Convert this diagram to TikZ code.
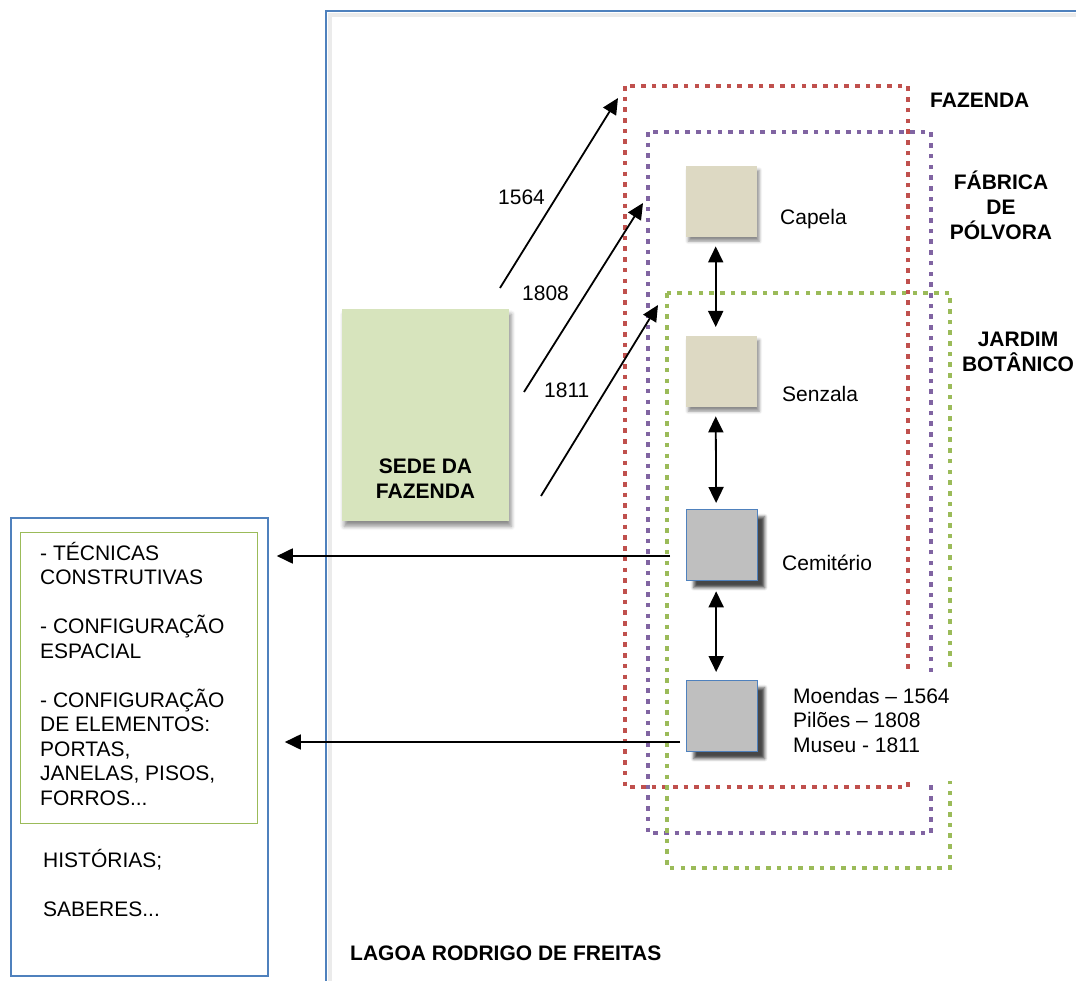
\documentclass[tikz,border=0pt]{standalone}
\usepackage{fontspec}
\setmainfont{Liberation Sans}
\usetikzlibrary{arrows.meta,shadows.blur}
\definecolor{frameblue}{HTML}{4F81BD}
\definecolor{dred}{HTML}{C0504D}
\definecolor{dpurple}{HTML}{8064A2}
\definecolor{dgreen}{HTML}{9BBB59}
\definecolor{sedefill}{HTML}{D7E4BD}
\definecolor{beige}{HTML}{DDD9C3}
\definecolor{boxgray}{HTML}{BFBFBF}
\tikzset{
  txt/.style={inner sep=0pt, font=\fontsize{21}{24.5}\selectfont},
  btxt/.style={inner sep=0pt, font=\fontsize{21}{25}\selectfont\bfseries},
  dots/.style={line width=4.6pt, dash pattern=on 4.6pt off 6.1pt},
  softbox/.style={draw=none, minimum width=71pt, minimum height=71pt, inner sep=0pt,
    blur shadow={shadow xshift=2pt, shadow yshift=-4pt, shadow blur radius=3pt, shadow opacity=45}},
  graybox/.style={fill=boxgray, draw=frameblue, line width=1.3pt, minimum width=71pt, minimum height=71pt, inner sep=0pt,
    blur shadow={shadow xshift=7pt, shadow yshift=-7pt, shadow blur radius=3pt, shadow opacity=72}},
  arr/.style={line width=1.8pt, -{Triangle[length=16pt,width=15pt]}},
  darr/.style={line width=1.8pt, {Triangle[length=16pt,width=15pt]}-{Triangle[length=16pt,width=15pt]}},
}
\begin{document}
\begin{tikzpicture}[x=1pt,y=-1pt]
\useasboundingbox (0,0) rectangle (1076,981);
\clip (0,0) rectangle (1076,981);
% big frame
\draw[black!8, line width=4pt] (330,1000) -- (330,15) -- (1090,15);
\draw[frameblue, line width=2pt] (326,1000) -- (326,11) -- (1090,11);

% dotted regions
\draw[dots, dred] (625,86) rectangle (908,787);
\draw[dots, dpurple] (648,132) rectangle (931,833);
\draw[dots, dgreen] (667,293) rectangle (950,868);

% boxes
\node[softbox, fill=beige, anchor=north west] (capela) at (686,166) {};
\node[softbox, fill=beige, anchor=north west] (senzala) at (686,336) {};
\node[graybox, anchor=north west] (cemit) at (686,509) {};
\node[graybox, anchor=north west] (moendas) at (686,680) {};
\node[draw=none, fill=sedefill, minimum width=167pt, minimum height=212pt, inner sep=0pt, anchor=north west,
  blur shadow={shadow xshift=2pt, shadow yshift=-5pt, shadow blur radius=4pt, shadow opacity=45}] (sede) at (342,309) {};
\node[btxt, align=center, anchor=north] (sedetxt) at (425.5,459) {SEDE DA\\FAZENDA};

% left box
\node[draw=frameblue, line width=1.8pt, minimum width=257pt, minimum height=458pt, anchor=north west] (leftbox) at (10,517) {};
\node[draw=dgreen, line width=1.1pt, minimum width=237pt, minimum height=291pt, anchor=north west] (innerbox) at (20,532) {};
\node[txt, align=left, anchor=north west] (techtxt) at (40,542) {- TÉCNICAS\\CONSTRUTIVAS\\[24.5pt]- CONFIGURAÇÃO\\ESPACIAL\\[24.5pt]- CONFIGURAÇÃO\\DE ELEMENTOS:\\PORTAS,\\JANELAS, PISOS,\\FORROS...};
\node[txt, align=left, anchor=north west] (histtxt) at (43,849) {HISTÓRIAS;\\[24.5pt]SABERES...};

% labels
\node[txt, anchor=base west] (capelatxt) at (780,225) {Capela};
\node[txt, anchor=base west] (senzalatxt) at (782,402) {Senzala};
\node[txt, anchor=base west] (cemittxt) at (782,570) {Cemitério};
\node[txt, fill=white, anchor=north west, minimum width=176pt, minimum height=109pt] (mask) at (785,672) {};
\node[txt, align=left, anchor=north west] (moendastxt) at (793,688) {Moendas – 1564\\Pilões – 1808\\Museu - 1811};
\node[txt, anchor=base west] (y1564) at (498,205) {1564};
\node[txt, anchor=base west] (y1808) at (522,301) {1808};
\node[txt, anchor=base west] (y1811) at (544,397) {1811};
\node[btxt, anchor=base west] (fazenda) at (930,108) {FAZENDA};
\node[btxt, align=center, anchor=north] (fabrica) at (1001,171) {FÁBRICA\\DE\\PÓLVORA};
\node[btxt, align=center, anchor=north] (jardim) at (1018,332) {JARDIM\\BOTÂNICO};
\node[btxt, anchor=base west] (lagoa) at (350,960) {LAGOA RODRIGO DE FREITAS};

% vertical double arrows
\draw[darr, shorten <=9pt, shorten >=9pt] ([xshift=-6pt]capela.south) -- ([xshift=-6pt]senzala.north);
\draw[darr, shorten <=9pt, shorten >=6pt] ([xshift=-6pt]senzala.south) -- ([xshift=-6pt]cemit.north);
\draw[darr, shorten <=10pt, shorten >=8pt] ([xshift=-6pt]cemit.south) -- ([xshift=-6pt]moendas.north);

% horizontal arrows
\coordinate (h1) at (670,556);
\coordinate (h2) at (680,742);
\draw[arr, shorten >=8pt] (h1) -- (h1 -| leftbox.east);
\draw[arr, shorten >=16pt] (h2) -- (h2 -| leftbox.east);

% diagonal arrows
\coordinate (d1s) at (500,288); \coordinate (d1e) at (618,98);
\coordinate (d2s) at (524,392); \coordinate (d2e) at (643,203);
\coordinate (d3s) at (541,496); \coordinate (d3e) at (658,305);
\draw[arr] (d1s) -- (d1e);
\draw[arr] (d2s) -- (d2e);
\draw[arr] (d3s) -- (d3e);
\end{tikzpicture}
\end{document}
